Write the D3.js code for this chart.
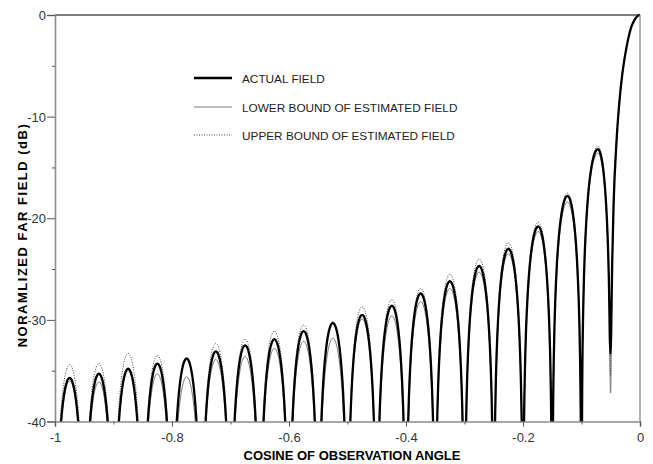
<!DOCTYPE html>
<html>
<head>
<meta charset="utf-8">
<script src="https://cdn.jsdelivr.net/npm/d3@7"></script>
<style>
  body { margin: 0; background: #fff; }
  svg text { font-family: "Liberation Sans", Arial, sans-serif; }
</style>
</head>
<body>
<script>
// nulls of the pattern (cosine), from the main lobe outwards
const nullCos = [-0.05, -0.10, -0.15, -0.20, -0.25, -0.30, -0.35, -0.40, -0.45, -0.50,
                 -0.55, -0.60, -0.65, -0.70, -0.75, -0.80, -0.85, -0.90, -0.95, -1.00];
// side lobe peaks
const peakCos = [-0.072, -0.124, -0.174, -0.225, -0.275, -0.325, -0.375, -0.424, -0.475, -0.525,
                 -0.575, -0.625, -0.675, -0.725, -0.775, -0.825, -0.875, -0.925, -0.975];
const actualPeak = [-13.2, -17.8, -20.8, -23.0, -24.7, -26.2, -27.4, -28.6, -29.5, -30.3,
                    -31.1, -31.9, -32.5, -33.1, -33.8, -34.3, -34.8, -35.3, -35.7];
const lowerPeak  = [-13.6, -18.4, -21.3, -23.5, -25.3, -26.9, -28.2, -29.6, -29.9, -31.8,
                    -32.1, -32.8, -33.6, -33.9, -35.6, -35.3, -35.0, -36.1, -36.0];
const upperPeak  = [-12.9, -17.5, -20.4, -22.4, -24.0, -25.5, -26.9, -28.0, -28.7, -30.2,
                    -30.5, -31.1, -31.9, -32.3, -33.8, -33.5, -33.3, -34.3, -34.4];
// main lobe (all three curves share it)
const mainCos = [-0.049, -0.0475, -0.045, -0.04, -0.035, -0.03, -0.025, -0.02, -0.015, -0.01, -0.005, 0];
const mainDb  = [-30.0, -24.3, -18.4, -12.3, -8.4, -5.7, -3.8, -2.3, -1.2, -0.55, -0.15, 0];
// depth of the first null for each curve
const firstNull = { actual: -33.3, lower: -37.2, upper: -35.5 };

const xTicks = [-1, -0.8, -0.6, -0.4, -0.2, 0];
const xMinor = [-0.9, -0.7, -0.5, -0.3, -0.1];
const yTicks = [0, -10, -20, -30, -40];
const yMinor = [-5, -15, -25, -35];
const legendNames = ["ACTUAL FIELD", "LOWER BOUND OF ESTIMATED FIELD", "UPPER BOUND OF ESTIMATED FIELD"];

// arch shape of one lobe: fraction of the way from peak to null, and dB below the peak
const lobeStep = [0, 0.1, 0.2, 0.3, 0.4, 0.5, 0.6, 0.7, 0.8, 0.85, 0.9, 0.95, 0.98];
const lobeDrop = [0, -0.11, -0.44, -1.0, -1.84, -3.01, -4.61, -6.86, -10.2, -12.6, -16.1, -22.1, -30.1];

const W = 653, H = 464;
const x = d3.scaleLinear().domain([-1, 0]).range([55, 640]);
const y = d3.scaleLinear().domain([-40, 0]).range([421.5, 15]);

const svg = d3.select("body").append("svg").attr("width", W).attr("height", H);

svg.append("clipPath").attr("id", "plot")
  .append("rect").attr("x", 55).attr("y", 14).attr("width", 586).attr("height", 408);

function buildSeries(peaks, depth) {
  const pts = [];
  const deep = -60;
  for (let k = peaks.length - 1; k >= 0; k--) {
    const nl = nullCos[k + 1], nr = nullCos[k], pc = peakCos[k], pd = peaks[k];
    const nrDepth = k === 0 ? depth : deep;
    if (k === peaks.length - 1) pts.push([nl, deep]);
    for (let i = lobeStep.length - 1; i >= 0; i--)
      pts.push([pc + (nl - pc) * lobeStep[i], pd + lobeDrop[i]]);
    for (let i = 1; i < lobeStep.length; i++)
      pts.push([pc + (nr - pc) * lobeStep[i], Math.max(pd + lobeDrop[i], nrDepth)]);
    pts.push([nr, nrDepth]);
  }
  mainCos.forEach((c, i) => pts.push([c, Math.max(mainDb[i], depth)]));
  return pts;
}

const line = d3.line().x(d => x(d[0])).y(d => y(d[1])).curve(d3.curveMonotoneX);
const g = svg.append("g").attr("clip-path", "url(#plot)");

g.append("path").datum(buildSeries(lowerPeak, firstNull.lower))
  .attr("d", line).attr("fill", "none").attr("stroke", "#7a7a7a").attr("stroke-width", 1);
g.append("path").datum(buildSeries(upperPeak, firstNull.upper))
  .attr("d", line).attr("fill", "none").attr("stroke", "#444").attr("stroke-width", 1)
  .attr("stroke-dasharray", "1,1.5");
g.append("path").datum(buildSeries(actualPeak, firstNull.actual))
  .attr("d", line).attr("fill", "none").attr("stroke", "#000").attr("stroke-width", 2.3);

// frame
svg.append("line").attr("x1", 55).attr("x2", 640).attr("y1", y(0)).attr("y2", y(0))
  .attr("stroke", "#000").attr("stroke-width", 1.2);
svg.append("line").attr("x1", 640).attr("x2", 640).attr("y1", y(0)).attr("y2", y(-40))
  .attr("stroke", "#8c8c8c").attr("stroke-width", 1.3);

// axes (plain hyphen minus, as in the original)
const fmt = d => String(d);
const yAxis = svg.append("g").attr("transform", "translate(55,0)")
  .call(d3.axisLeft(y).tickValues(yTicks).tickSize(8).tickPadding(1).tickFormat(fmt));
svg.append("g").attr("transform", "translate(55,0)")
  .call(d3.axisLeft(y).tickValues(yMinor).tickSize(3).tickFormat(""))
  .call(a => a.select(".domain").remove());
svg.append("g").attr("transform", `translate(0,${y(-40)})`)
  .call(d3.axisBottom(x).tickValues(xTicks).tickSize(5).tickPadding(6).tickFormat(fmt));
svg.append("g").attr("transform", `translate(0,${y(-40)})`)
  .call(d3.axisBottom(x).tickValues(xMinor).tickSize(3).tickFormat(""))
  .call(a => a.select(".domain").remove());

svg.selectAll(".domain").attr("stroke", "#8c8c8c").attr("stroke-width", 1.6);
svg.selectAll(".tick line").attr("stroke", "#555");
svg.selectAll(".tick text").attr("font-size", 13).attr("fill", "#333")
  .attr("font-family", "'Liberation Sans', Arial, sans-serif");
yAxis.selectAll(".tick text").attr("dy", "0.35em");

// axis titles
svg.append("text").attr("x", 352).attr("y", 460).attr("text-anchor", "middle")
  .attr("font-size", 13).attr("font-weight", "bold").text("COSINE OF OBSERVATION ANGLE");
svg.append("text").attr("transform", "translate(27,235) rotate(-90)").attr("text-anchor", "middle")
  .attr("font-size", 13).attr("font-weight", "bold").attr("letter-spacing", 1.5)
  .text("NORAMLIZED FAR FIELD (dB)");

// legend
const legStyles = [
  { stroke: "#000", width: 2.3, dash: null },
  { stroke: "#7a7a7a", width: 1, dash: null },
  { stroke: "#444", width: 1, dash: "1,1.5" }
];
const legY = [78, 107, 135];
legendNames.forEach((name, i) => {
  svg.append("line").attr("x1", 194).attr("x2", 232).attr("y1", legY[i]).attr("y2", legY[i])
    .attr("stroke", legStyles[i].stroke).attr("stroke-width", legStyles[i].width)
    .attr("stroke-dasharray", legStyles[i].dash);
  svg.append("text").attr("x", 242).attr("y", legY[i] + 5).attr("font-size", 11.8)
    .attr("fill", "#222").text(name);
});
</script>
</body>
</html>
